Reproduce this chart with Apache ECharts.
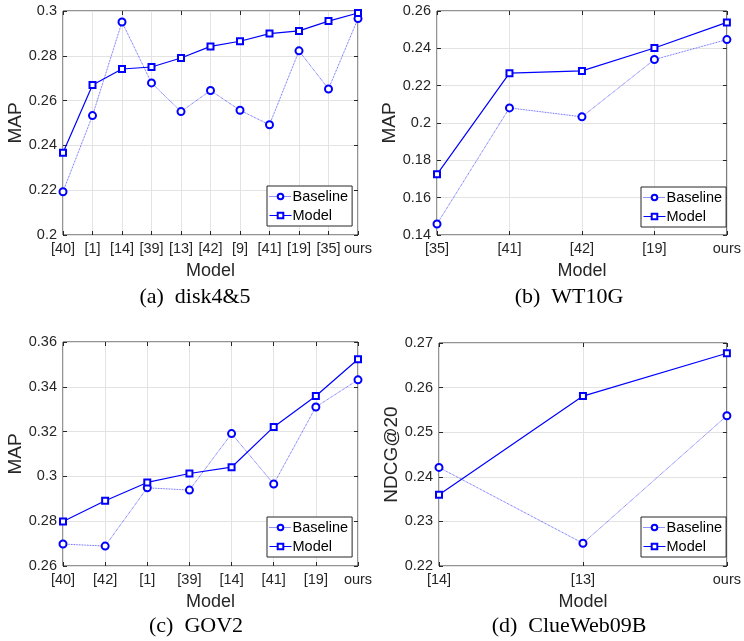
<!DOCTYPE html>
<html>
<head>
<meta charset="utf-8">
<script src="https://cdn.jsdelivr.net/npm/echarts@6/dist/echarts.min.js"></script>
<style>
html,body{margin:0;padding:0;background:#fff;}
#c{width:744px;height:641px;}
</style>
</head>
<body>
<div id="c"></div>
<script>
// ---- data ----
const catsA = ['[40]','[1]','[14]','[39]','[13]','[42]','[9]','[41]','[19]','[35]','ours'];
const baseA = [0.2193,0.2533,0.2951,0.2679,0.2551,0.2645,0.2557,0.2492,0.2822,0.2652,0.2966];
const modelA = [0.2367,0.2670,0.2741,0.2750,0.2790,0.2842,0.2865,0.2899,0.2911,0.2955,0.2991];

const catsB = ['[35]','[41]','[42]','[19]','ours'];
const baseB = [0.1459,0.2081,0.2033,0.2340,0.2447];
const modelB = [0.1725,0.2267,0.2279,0.2402,0.2539];

const catsC = ['[40]','[42]','[1]','[39]','[14]','[41]','[19]','ours'];
const baseC = [0.2698,0.2689,0.2949,0.2939,0.3191,0.2966,0.3310,0.3431];
const modelC = [0.2799,0.2891,0.2973,0.3013,0.3041,0.3221,0.3359,0.3523];

const catsD = ['[14]','[13]','ours'];
const baseD = [0.2421,0.2251,0.2537];
const modelD = [0.2360,0.2581,0.2677];

const yTitles = ['MAP','MAP','MAP','NDCG@20'];
const xTitle = 'Model';
const captions = ['(a)  disk4&5','(b)  WT10G','(c)  GOV2','(d)  ClueWeb09B'];

// ---- layout ----
const panels = [
  {cats:catsA, base:baseA, model:modelA, min:0.20, max:0.30, step:0.02, grid:{left:63, top:11, width:295, height:224}, legend:{left:267, top:186}, cap:[195,297]},
  {cats:catsB, base:baseB, model:modelB, min:0.14, max:0.26, step:0.02, grid:{left:437, top:11, width:295, height:224}, legend:{left:641, top:187}, cap:[569,297]},
  {cats:catsC, base:baseC, model:modelC, min:0.26, max:0.36, step:0.02, grid:{left:63, top:342, width:295, height:224}, legend:{left:267, top:517}, cap:[196,626]},
  {cats:catsD, base:baseD, model:modelD, min:0.22, max:0.27, step:0.01, grid:{left:439, top:343, width:293, height:223}, legend:{left:641, top:517}, cap:[569,626]}
];

const FONT = 'Liberation Sans, Arial, Helvetica, sans-serif';
const INK = '#262626';
const BLUE = '#0000ff';
const GRIDC = '#e3e3e3';
const fmt = v => String(+(+v).toFixed(4));

const option = {
  animation:false,
  backgroundColor:'#fff',
  grid:[], xAxis:[], yAxis:[], series:[], legend:[], graphic:[]
};

panels.forEach((p, i) => {
  option.grid.push(Object.assign({show:true, borderColor:INK, borderWidth:1, backgroundColor:'#fff', containLabel:false}, p.grid));
  option.xAxis.push({
    type:'category', gridIndex:i, data:p.cats, boundaryGap:false, position:'bottom',
    axisLine:{show:false},
    axisTick:{show:true, inside:true, length:4, lineStyle:{color:INK}},
    axisLabel:{fontFamily:FONT, fontSize:14.5, color:INK, margin:6, interval:0},
    splitLine:{show:true, lineStyle:{color:GRIDC, width:1}},
    name:xTitle, nameLocation:'middle', nameGap:27,
    nameTextStyle:{fontFamily:FONT, fontSize:18, color:INK}
  });
  option.xAxis.push({
    type:'category', gridIndex:i, data:p.cats, boundaryGap:false, position:'top',
    axisLine:{show:false},
    axisTick:{show:true, inside:true, length:4, lineStyle:{color:INK}},
    axisLabel:{show:false}, splitLine:{show:false}
  });
  option.yAxis.push({
    type:'value', gridIndex:i, min:p.min, max:p.max, interval:p.step, position:'left',
    axisLine:{show:false},
    axisTick:{show:true, inside:true, length:4, lineStyle:{color:INK}},
    axisLabel:{fontFamily:FONT, fontSize:14.5, color:INK, margin:6, formatter:fmt},
    splitLine:{show:true, lineStyle:{color:GRIDC, width:1}},
    name:yTitles[i], nameLocation:'middle', nameGap:34, nameRotate:90,
    nameTextStyle:{fontFamily:FONT, fontSize:19, color:INK}
  });
  option.yAxis.push({
    type:'value', gridIndex:i, min:p.min, max:p.max, interval:p.step, position:'right',
    axisLine:{show:false},
    axisTick:{show:true, inside:true, length:4, lineStyle:{color:INK}},
    axisLabel:{show:false}, splitLine:{show:false}
  });

  option.series.push({
    name:'Baseline', type:'line', xAxisIndex:2*i, yAxisIndex:2*i, data:p.base,
    symbol:'emptyCircle', symbolSize:7,
    lineStyle:{color:BLUE, width:0.8, type:'dotted', opacity:0.85},
    itemStyle:{color:BLUE, borderColor:BLUE, borderWidth:1},
    z:3
  });
  option.series.push({
    name:'Model', type:'line', xAxisIndex:2*i, yAxisIndex:2*i, data:p.model,
    symbol:'emptyRect', symbolSize:6,
    lineStyle:{color:BLUE, width:1.2, type:'solid'},
    itemStyle:{color:BLUE, borderColor:BLUE, borderWidth:1},
    z:4
  });

  option.legend.push({
    orient:'vertical', left:p.legend.left, top:p.legend.top,
    data:['Baseline','Model'],
    backgroundColor:'#fff', borderColor:INK, borderWidth:1,
    padding:[3,4,3,2], itemGap:4, itemWidth:22, itemHeight:7,
    lineStyle:{width:1},
    itemStyle:{borderWidth:1},
    textStyle:{fontFamily:FONT, fontSize:14.5, color:'#000', padding:[0,0,0,-4]},
    selectedMode:false
  });

  option.graphic.push({
    type:'text', x:p.cap[0], y:p.cap[1],
    style:{text:captions[i], fontFamily:'Liberation Serif, Times New Roman, serif', fontSize:22, fill:'#000', textAlign:'center', textVerticalAlign:'middle'}
  });
});

const chart = echarts.init(document.getElementById('c'), null, {renderer:'canvas'});
chart.setOption(option);
</script>
</body>
</html>
